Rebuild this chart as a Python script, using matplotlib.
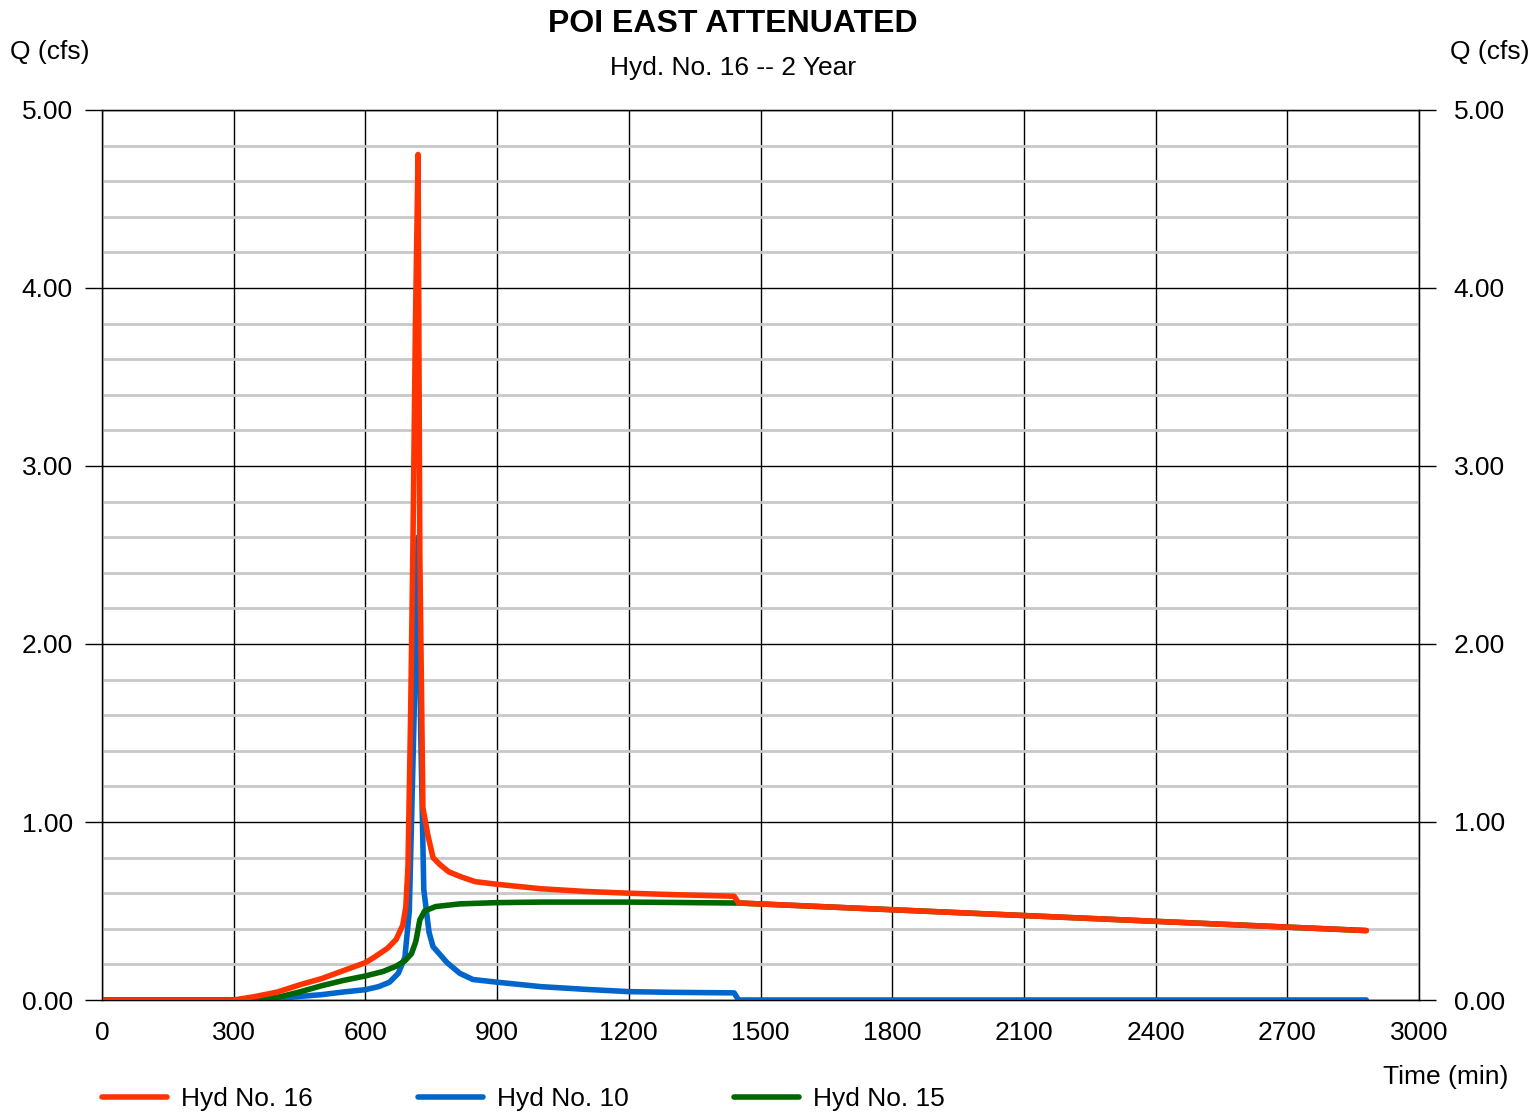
import matplotlib
matplotlib.use("Agg")
import matplotlib.pyplot as plt
from matplotlib.lines import Line2D
from matplotlib.ticker import MultipleLocator

plt.rcParams['font.family'] = ['Liberation Sans', 'DejaVu Sans']

# Hyd No. 16 (outflow total)
t16 = [0, 300, 350, 400, 450, 500, 550, 600, 620, 650, 670, 685, 692, 697, 703, 708, 714, 720,
       724, 731, 742, 754, 770, 790, 820, 850, 900, 1000, 1100, 1200, 1300, 1440, 1450, 2880]
q16 = [0, 0, 0.02, 0.045, 0.085, 0.12, 0.165, 0.21, 0.24, 0.29, 0.34, 0.42, 0.52, 0.75, 1.6, 2.5, 3.8, 4.75,
       2.5, 1.08, 0.93, 0.80, 0.76, 0.72, 0.69, 0.665, 0.65, 0.625, 0.61, 0.60, 0.592, 0.583, 0.545, 0.39]

# Hyd No. 10
t10 = [0, 350, 400, 450, 500, 550, 600, 630, 655, 675, 690, 700, 710, 720, 726, 733, 745, 754,
       786, 815, 845, 900, 1000, 1100, 1200, 1300, 1440, 1450, 2880]
q10 = [0, 0, 0.008, 0.02, 0.03, 0.045, 0.058, 0.075, 0.10, 0.15, 0.24, 0.5, 1.5, 2.6, 1.5, 0.62, 0.38, 0.30,
       0.21, 0.15, 0.115, 0.10, 0.075, 0.06, 0.047, 0.043, 0.04, 0, 0]

# Hyd No. 15
t15 = [0, 350, 400, 450, 500, 550, 600, 640, 670, 690, 705, 715, 724, 735, 760, 815, 900,
       1000, 1200, 1440, 1450, 2880]
q15 = [0, 0, 0.015, 0.045, 0.08, 0.11, 0.135, 0.16, 0.19, 0.22, 0.26, 0.33, 0.45, 0.50, 0.525, 0.54, 0.547,
       0.55, 0.55, 0.545, 0.545, 0.39]

red = '#ff3300'
blue = '#0066cc'
green = '#006600'
fs = 19
lw = 4.0

fig = plt.figure(figsize=(15.36, 11.12), dpi=100)
ax = fig.add_axes([102/1536, 1 - 1000/1112, 1317/1536, 890/1112])

ax.plot(t10, q10, color=blue, lw=lw, solid_capstyle='round', solid_joinstyle='round', zorder=3)
ax.plot(t15, q15, color=green, lw=lw, solid_capstyle='round', solid_joinstyle='round', zorder=4)
ax.plot(t16, q16, color=red, lw=lw, solid_capstyle='round', solid_joinstyle='round', zorder=5)

ax.set_xlim(0, 3000)
ax.set_ylim(0, 5)
ax.xaxis.set_major_locator(MultipleLocator(300))
ax.yaxis.set_major_locator(MultipleLocator(1))
ax.yaxis.set_minor_locator(MultipleLocator(0.2))
ax.grid(which='major', color='black', lw=1.0, zorder=1)
ax.grid(which='minor', axis='y', color='#c8c8c8', lw=2.0, zorder=0)
ax.set_axisbelow(True)
for s in ax.spines.values():
    s.set_color('black')
    s.set_linewidth(1.0)

ax.tick_params(axis='y', which='major', direction='out', length=12, width=1,
               labelsize=fs, pad=9)
ax.tick_params(axis='y', which='minor', length=0)
ax.tick_params(axis='x', which='major', length=0, labelsize=fs, pad=15)
ax.set_yticklabels([f'{v:.2f}' for v in ax.get_yticks()])

ax2 = ax.twinx()
ax2.set_ylim(0, 5)
ax2.yaxis.set_major_locator(MultipleLocator(1))
ax2.set_yticklabels([f'{v:.2f}' for v in ax2.get_yticks()])
ax2.tick_params(axis='y', which='major', direction='out', length=12, width=1,
                labelsize=fs, pad=13)
ax2.tick_params(axis='y', which='minor', length=0)

fig.text(733/1536, 1 - 24/1112, 'POI EAST ATTENUATED', ha='center', va='center',
         fontsize=23, fontweight='bold')
fig.text(733/1536, 1 - 68/1112, 'Hyd. No. 16 -- 2 Year', ha='center', va='center', fontsize=fs)
fig.text(10/1536, 1 - 52/1112, 'Q (cfs)', ha='left', va='center', fontsize=fs)
fig.text(1530/1536, 1 - 52/1112, 'Q (cfs)', ha='right', va='center', fontsize=fs)
fig.text(1508/1536, 1 - 1077/1112, 'Time (min)', ha='right', va='center', fontsize=fs)

# legend
items = [(102, red, 'Hyd No. 16'), (418, blue, 'Hyd No. 10'), (734, green, 'Hyd No. 15')]
ly = 1 - 1097/1112
for x0, c, lab in items:
    fig.add_artist(Line2D([x0/1536, (x0 + 65)/1536], [ly, ly], color=c, lw=lw,
                          solid_capstyle='round'))
    fig.text((x0 + 79)/1536, ly - 2/1112, lab, ha='left', va='center', fontsize=fs)

fig.savefig('out.png', dpi=100)
